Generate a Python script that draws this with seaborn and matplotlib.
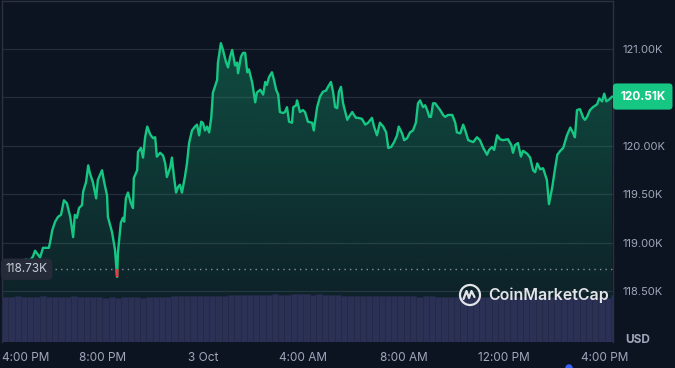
import numpy as np
import matplotlib
matplotlib.use('Agg')
import matplotlib.pyplot as plt
import seaborn as sns
from matplotlib.patches import Circle
from matplotlib.lines import Line2D
from matplotlib.ticker import FuncFormatter

# minutes after 4:00 PM (2 Oct) and BTC price in thousands of USD
mins = [0,14,29,43,57,67,74,79,86,91,98,108,112,115,120,127,134,141,148,155,163,170,174,179,184,191,194,201,206,210,
        217,225,229,239,244,251,253,263,270,275,277,284,289,292,296,301,308,313,315,323,325,332,337,342,347,354,361,366,370,378,
        385,390,394,402,406,411,416,421,425,430,437,442,447,454,461,466,471,476,480,485,490,495,500,504,514,516,523,528,535,540,
        545,550,557,562,564,571,576,581,586,590,598,605,609,617,624,629,633,638,645,650,655,660,664,672,676,681,686,693,696,703,
        705,712,719,724,731,741,745,753,760,767,774,779,786,791,796,801,805,810,815,825,829,837,841,846,851,860,868,875,884,889,
        896,903,911,918,923,930,937,944,948,956,961,968,975,982,989,994,999,1006,1011,1016,1021,1025,1030,1035,1042,1047,1054,1059,1066,1076,
        1083,1087,1095,1102,1107,1114,1126,1135,1142,1150,1159,1164,1171,1176,1183,1190,1197,1209,1217,1221,1226,1233,1240,1245,1255,1262,1269,1274,1279,1286,
        1293,1302,1307,1315,1322,1327,1334,1341,1350,1358,1365,1369,1374,1381,1389,1393,1398,1405,1412,1422,1427,1434,1439,1444,1451,1458]
price = [118.72,118.76,118.80,118.79,118.83,118.82,118.86,118.92,118.88,118.85,118.95,118.95,118.95,119.01,119.13,119.22,119.27,119.29,119.44,119.41,
         119.27,119.06,119.29,119.26,119.36,119.39,119.53,119.63,119.80,119.72,119.63,119.46,119.65,119.75,119.63,119.49,119.27,119.11,118.93,118.65,
         118.90,119.21,119.26,119.22,119.46,119.52,119.41,119.36,119.67,119.75,119.94,119.98,119.88,120.09,120.20,120.12,120.08,120.09,119.89,119.93,
         119.90,119.82,119.68,119.78,119.88,119.68,119.52,119.58,119.60,119.52,119.68,119.82,120.03,120.16,120.20,120.22,120.11,120.25,120.24,120.16,
         120.20,120.14,120.29,120.55,120.68,120.86,121.06,120.99,120.87,120.81,120.92,120.99,120.83,120.86,120.75,120.92,120.96,120.96,120.76,120.79,
         120.65,120.45,120.55,120.58,120.53,120.66,120.63,120.71,120.76,120.68,120.58,120.53,120.35,120.34,120.35,120.40,120.25,120.24,120.40,120.42,
         120.47,120.35,120.37,120.35,120.25,120.24,120.16,120.40,120.51,120.56,120.57,120.61,120.66,120.56,120.40,120.39,120.56,120.61,120.44,120.27,
         120.30,120.35,120.32,120.29,120.29,120.28,120.22,120.24,120.29,120.20,120.11,120.24,120.20,120.14,119.98,119.99,120.04,120.11,120.20,120.13,
         120.06,120.08,120.14,120.16,120.24,120.44,120.47,120.40,120.42,120.37,120.30,120.30,120.44,120.44,120.40,120.37,120.32,120.30,120.32,120.32,
         120.24,120.14,120.13,120.22,120.16,120.06,120.04,120.09,120.06,119.98,119.91,119.96,119.99,119.96,120.11,120.07,120.06,120.07,120.01,119.93,
         120.01,120.03,119.89,119.95,119.92,119.88,119.75,119.73,119.82,119.76,119.77,119.65,119.40,119.58,119.78,119.91,119.95,119.98,120.11,120.19,
         120.13,120.09,120.37,120.38,120.29,120.27,120.30,120.37,120.40,120.43,120.49,120.46,120.54,120.46,120.48,120.51]

# relative 15-minute volume
volume = [0.98,0.97,0.99,0.98,0.97,0.98,0.99,0.98,0.97,0.98,0.98,0.99,0.98,0.97,0.98,0.97,
          0.96,0.97,0.96,0.97,0.98,0.97,0.96,0.97,0.98,0.97,0.98,0.99,
          1.00,0.99,1.00,1.01,1.00,1.01,1.00,1.01,1.02,
          1.03,1.02,1.03,1.03,1.02,1.03,1.04,1.03,1.03,1.04,1.05,1.04,1.03,1.04,1.03,1.02,1.02,
          1.01,1.00,1.01,1.00,1.00,0.99,1.00,1.00,0.99,0.99,1.00,0.99,0.98,0.99,0.99,0.98,0.98,
          0.98,0.97,0.98,0.97,0.97,0.98,0.97,0.97,0.96,0.97,0.97,0.98,0.97,0.97,0.97,0.96,0.97,0.97,0.96,0.97,0.97,0.96,
          0.97,0.96,0.97,0.96,1.03]

base = 118.73
last = 120.51
yticks = [118.5, 119.0, 119.5, 120.0, 120.5, 121.0]
xticks = [0, 240, 480, 720, 960, 1200, 1440]
xlabels = ['4:00 PM', '8:00 PM', '3 Oct', '4:00 AM', '8:00 AM', '12:00 PM', '4:00 PM']

bg = '#0d1421'
green = '#16c784'
red = '#ea3943'
grey = '#a1a7bb'

sns.set_theme(style='dark')
plt.rcParams['font.family'] = ['Inter', 'DejaVu Sans']

fig = plt.figure(figsize=(6.75, 3.68), dpi=100, facecolor=bg)
ax = fig.add_axes([2/675, 26/368, 611/675, 341.5/368])
ax.set_facecolor(bg)
axv = ax.twinx()  # volume axis, made first so the price ticks can go right afterwards
ax.set_xlim(0, 1460)
ax.set_ylim(117.979, 121.50)

# gradient under the line
poly = ax.fill_between(mins, price, 117.979, color='none', lw=0)
rgba = np.zeros((256, 1, 4))
rgba[..., :3] = matplotlib.colors.to_rgb(green)
rgba[..., 3] = np.linspace(0.32, 0.04, 256).reshape(-1, 1)
im = ax.imshow(rgba, extent=[0, 1460, 117.979, 121.1], aspect='auto', zorder=1)
im.set_clip_path(poly.get_paths()[0], transform=ax.transData)

sns.lineplot(x=mins, y=price, ax=ax, color=green, linewidth=1.7, zorder=3)

# red where the price is under the opening price
for i in range(len(mins) - 1):
    x0, x1, y0, y1 = mins[i], mins[i+1], price[i], price[i+1]
    if y0 >= base and y1 >= base:
        continue
    if y0 < base and y1 < base:
        seg = ([x0, x1], [y0, y1])
    else:
        xc = x0 + (base - y0) / (y1 - y0) * (x1 - x0)
        seg = ([x0, xc], [y0, base]) if y0 < base else ([xc, x1], [base, y1])
    ax.plot(seg[0], seg[1], color=red, lw=1.7, zorder=4, solid_capstyle='butt')

ax.axhline(base, xmin=0.087, xmax=1, color='#8a909e', lw=1, ls=(0, (1, 3)), zorder=2)

# the 120.50K label sits under the last-price badge, so it is left blank
ax.set_yticks(yticks)
ax.yaxis.set_major_formatter(FuncFormatter(lambda v, p: '' if abs(v - 120.5) < 1e-6 else f'{v:.2f}K'))
ax.yaxis.tick_right()
ax.tick_params(axis='y', length=0, pad=7, labelcolor=grey, labelsize=8,
               labelleft=False, labelright=True)
ax.set_xticks(xticks, xlabels)
ax.tick_params(axis='x', length=0, pad=7, labelcolor=grey, labelsize=8.5)
ax.get_xticklabels()[0].set_ha('left')
ax.grid(axis='y', color='#252c3a', lw=0.9)
ax.grid(axis='x', visible=False)
for s in ['top', 'right', 'left']:
    ax.spines[s].set_visible(True)
    ax.spines[s].set_color('#2b3140')
    ax.spines[s].set_linewidth(1)
ax.spines['bottom'].set_visible(False)
ax.set_xlabel('')
ax.set_ylabel('')

# volume bars
axv.set_ylim(0, 7.42)
axv.bar(np.arange(len(volume)) * 15, volume, width=15, align='edge',
        color='#2a3154', edgecolor='#232946', linewidth=0.5)
axv.set_yticks([])
axv.grid(False)
for s in axv.spines.values():
    s.set_visible(False)
axv.set_xlim(0, 1460)

# labels
ax.text(0.006, base, '118.73K', transform=ax.get_yaxis_transform(), ha='left', va='center',
        color='#c8ccd6', fontsize=8.5, zorder=6,
        bbox=dict(boxstyle='round,pad=0.4,rounding_size=0.4', fc='#252b38', ec='none'))
ax.text(1.0115, last, '120.51K', transform=ax.get_yaxis_transform(), ha='left', va='center',
        color='white', fontsize=8.5, fontweight='bold', clip_on=False, zorder=6,
        bbox=dict(boxstyle='round,pad=0.6,rounding_size=0.3', fc=green, ec='none'))
fig.text(638/675, 1 - 340/368, 'USD', ha='center', va='center', color=grey, fontsize=8.5, fontweight='bold')

# watermark
tr = fig.dpi_scale_trans
fig.patches.append(Circle((4.70, 0.73), 0.10, transform=tr, fill=False, ec='#e2e4e8', lw=1.6))
fig.lines.append(Line2D([4.635, 4.665, 4.69, 4.715, 4.745], [0.69, 0.77, 0.70, 0.77, 0.71],
                        transform=tr, color='#e2e4e8', lw=1.6))
fig.text(488/675, 1 - 295/368, 'CoinMarketCap', ha='left', va='center', color='#e2e4e8',
         fontsize=11.5, fontweight='semibold')
fig.patches.append(Circle((5.69, 0.0), 0.03, transform=tr, color='#3861fb'))

fig.savefig('out.png', dpi=100, facecolor=bg)
